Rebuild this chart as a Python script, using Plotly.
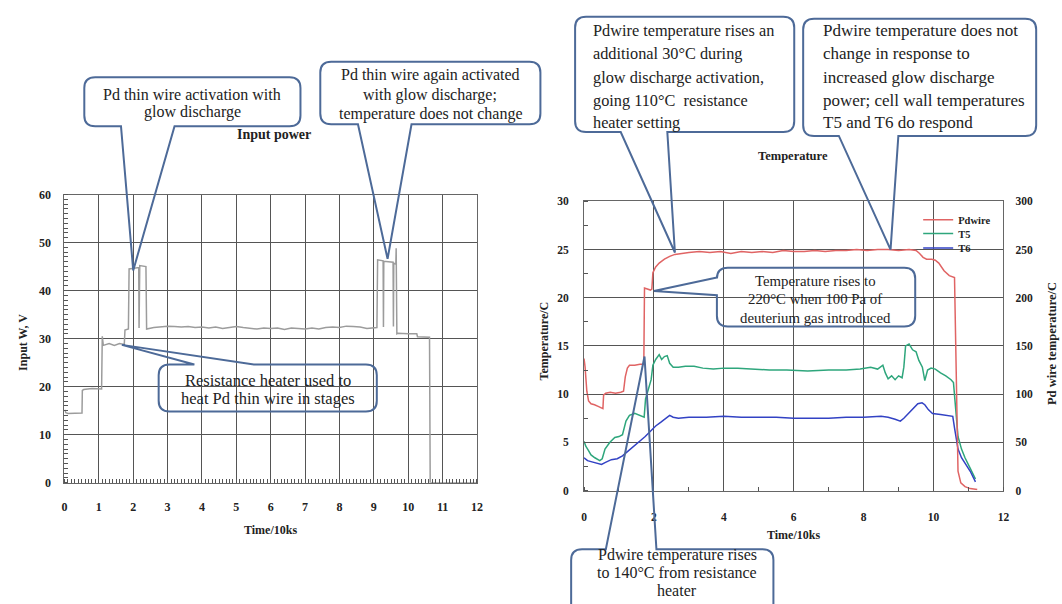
import plotly.graph_objects as go

W, H = 1062, 604

# ---- Input power record: time (10 ks) and input W / V ----
power_time = [
    0.00, 0.04, 0.10, 0.30, 0.51, 0.52, 0.56, 0.80, 1.08, 1.10,
    1.13, 1.30, 1.45, 1.60, 1.74, 1.76, 1.86, 1.88, 2.00, 2.16,
    2.17, 2.19, 2.37, 2.39, 2.60, 2.80, 3.00, 3.20, 3.40, 3.60,
    3.80, 4.00, 4.20, 4.40, 4.60, 4.80, 5.00, 5.20, 5.40, 5.60,
    5.80, 6.00, 6.20, 6.40, 6.60, 6.80, 7.00, 7.20, 7.40, 7.60,
    7.80, 8.00, 8.20, 8.40, 8.60, 8.80, 9.00, 9.09, 9.11, 9.27,
    9.28, 9.29, 9.56, 9.57, 9.58, 9.64, 9.65, 9.67, 9.70, 10.00,
    10.25, 10.27, 10.62, 10.64, 12.00,
]
power_value = [
    15.2, 14.6, 14.4, 14.4, 14.5, 19.2, 19.4, 19.6, 19.5, 30.5,
    28.6, 29.0, 28.6, 29.0, 28.8, 31.8, 32.0, 44.5, 44.6, 44.8,
    32.2, 45.2, 45.0, 32.0, 32.3, 32.5, 32.6, 32.5, 32.4, 32.5,
    32.3, 32.4, 32.2, 32.4, 32.1, 32.3, 32.5, 32.3, 32.1, 32.0,
    32.2, 32.1, 32.2, 31.9, 32.2, 32.1, 32.0, 32.2, 32.0, 32.3,
    32.4, 32.3, 32.6, 32.5, 32.4, 32.1, 32.2, 32.3, 46.4, 46.2,
    32.4, 46.1, 45.9, 32.5, 45.7, 45.5, 48.8, 31.0, 31.1, 31.0,
    31.0, 30.4, 30.3, 0.0, 0.0,
]

# ---- Pd wire temperature (right axis, degC) ----
pd_time = [
    0.00, 0.03, 0.08, 0.13, 0.20, 0.30, 0.42, 0.54, 0.56, 0.62,
    0.75, 0.90, 1.05, 1.13, 1.18, 1.24, 1.30, 1.45, 1.60, 1.71,
    1.73, 1.80, 1.90, 1.94, 1.97, 2.05, 2.15, 2.30, 2.45, 2.60,
    2.75, 3.00, 3.30, 3.60, 3.90, 4.20, 4.50, 4.80, 5.10, 5.40,
    5.70, 6.00, 6.30, 6.60, 6.90, 7.20, 7.50, 7.80, 8.10, 8.40,
    8.70, 9.00, 9.30, 9.50, 9.60, 9.70, 9.80, 9.95, 10.05, 10.15,
    10.30, 10.45, 10.60, 10.63, 10.66, 10.70, 10.78, 10.90, 11.05, 11.25,
]
pd_temp = [
    137, 128, 103, 93, 90, 89, 87, 85, 99, 101,
    102, 101, 102, 103, 118, 127, 130, 130, 131, 131,
    210, 209, 208, 209, 226, 232, 236, 240, 243, 245,
    246, 247, 248, 247, 248, 246, 248, 247, 248, 247,
    249, 248, 248, 249, 248, 249, 249, 250, 249, 250,
    250, 249, 250, 249, 246, 242, 240, 240, 239, 236,
    228, 223, 221, 160, 60, 20, 8, 4, 2, 1,
]

# ---- Cell wall temperature T5 (left axis) ----
t5_time = [
    0.00, 0.05, 0.12, 0.20, 0.31, 0.45, 0.52, 0.60, 0.74, 0.88,
    1.00, 1.10, 1.20, 1.30, 1.45, 1.60, 1.72, 1.76, 1.85, 1.92,
    1.97, 2.05, 2.15, 2.22, 2.30, 2.38, 2.45, 2.55, 2.70, 2.90,
    3.15, 3.40, 3.70, 4.00, 4.40, 4.80, 5.30, 5.80, 6.40, 7.00,
    7.50, 7.90, 8.20, 8.40, 8.55, 8.62, 8.70, 8.80, 8.90, 9.00,
    9.10, 9.15, 9.20, 9.30, 9.40, 9.50, 9.58, 9.68, 9.75, 9.83,
    9.93, 10.05, 10.20, 10.35, 10.50, 10.57, 10.62, 10.70, 10.80, 10.90,
    11.05, 11.20,
]
t5_temp = [
    5.1, 4.6, 4.2, 3.7, 3.4, 3.1, 3.3, 4.3, 5.0, 5.5,
    5.6, 5.8, 7.2, 7.8, 8.0, 7.8, 7.6, 9.5, 10.5, 11.5,
    13.0, 13.6, 14.1, 13.6, 13.9, 14.0, 13.2, 12.8, 12.8, 12.9,
    12.9, 12.7, 12.6, 12.7, 12.7, 12.6, 12.5, 12.5, 12.4, 12.5,
    12.5, 12.6, 12.8, 12.6, 13.0, 12.2, 11.6, 11.9, 11.5, 11.9,
    11.7, 12.8, 15.0, 15.2, 14.6, 14.4, 13.5, 12.8, 11.4, 12.5,
    12.7, 12.6, 12.2, 11.9, 11.5, 11.2, 9.0, 5.6, 4.3, 3.4,
    2.3, 1.2,
]

# ---- Cell wall temperature T6 (left axis) ----
t6_time = [
    0.00, 0.10, 0.20, 0.35, 0.50, 0.60, 0.78, 0.95, 1.10, 1.20,
    1.35, 1.50, 1.65, 1.75, 1.85, 1.95, 2.05, 2.20, 2.35, 2.45,
    2.55, 2.70, 3.00, 3.50, 4.00, 4.50, 5.00, 5.50, 6.00, 6.50,
    7.00, 7.50, 8.00, 8.50, 8.70, 8.90, 9.05, 9.15, 9.30, 9.45,
    9.55, 9.67, 9.75, 9.85, 9.97, 10.20, 10.40, 10.55, 10.60, 10.70,
    10.80, 10.95, 11.05, 11.20,
]
t6_temp = [
    3.4, 3.1, 3.0, 2.85, 2.7, 2.9, 3.2, 3.3, 3.6, 3.9,
    4.4, 4.9, 5.3, 5.6, 6.0, 6.4, 6.7, 7.1, 7.5, 7.8,
    7.6, 7.5, 7.6, 7.6, 7.7, 7.6, 7.6, 7.6, 7.5, 7.5,
    7.5, 7.6, 7.6, 7.7, 7.6, 7.4, 7.2, 7.5, 8.1, 8.6,
    9.0, 9.1, 8.9, 8.4, 8.0, 7.9, 7.8, 7.7, 6.5, 4.3,
    3.4, 2.6, 2.0, 0.9,
]

left_x_ticks = list(range(0, 13))
left_y_ticks = [0, 10, 20, 30, 40, 50, 60]
right_x_ticks = [0, 2, 4, 6, 8, 10, 12]
right_y_ticks = [0, 5, 10, 15, 20, 25, 30]
right_y2_ticks = [0, 50, 100, 150, 200, 250, 300]

# ---- plot-area placement (pixels) ----
LEFT = dict(x0=62, x1=478, y0=192, y1=487, xmax=12, ymax=60)
RIGHT = dict(x0=586, x1=1009, y0=199, y1=495, xmax=12, ymax=30)


def dom(area):
    return ([area["x0"] / W, area["x1"] / W],
            [1 - area["y1"] / H, 1 - area["y0"] / H])


def to_px(area, t, v):
    px = area["x0"] + t / area["xmax"] * (area["x1"] - area["x0"])
    py = area["y1"] - v / area["ymax"] * (area["y1"] - area["y0"])
    return px, py


SERIF = "Liberation Serif"
GRID = "#555555"
FRAME = "#666666"
INK = "#222222"
CALLOUT = "#4d6a98"

fig = go.Figure()

fig.add_trace(go.Scatter(
    x=power_time, y=power_value, mode="lines", xaxis="x", yaxis="y",
    line=dict(color="#9c9c9c", width=1.5), showlegend=False,
))
fig.add_trace(go.Scatter(
    x=pd_time, y=pd_temp, mode="lines", xaxis="x2", yaxis="y4", name="Pdwire",
    line=dict(color="#e06464", width=1.5), legend="legend",
))
fig.add_trace(go.Scatter(
    x=t5_time, y=t5_temp, mode="lines", xaxis="x2", yaxis="y3", name="T5",
    line=dict(color="#2ea67c", width=1.5), legend="legend2",
))
fig.add_trace(go.Scatter(
    x=t6_time, y=t6_temp, mode="lines", xaxis="x2", yaxis="y3", name="T6",
    line=dict(color="#3242c4", width=1.5), legend="legend3",
))

ldx, ldy = dom(LEFT)
rdx, rdy = dom(RIGHT)
tick_l = dict(family=SERIF, size=12, color=INK, weight="bold")
tick_r = dict(family=SERIF, size=11.5, color=INK, weight="bold")

common = dict(showline=True, linecolor=FRAME, linewidth=1, mirror=True,
              zeroline=False, gridcolor=GRID, gridwidth=1, ticks="")


def legend_at(py):
    return dict(x=923 / W, y=1 - py / H, xanchor="left", yanchor="top",
                bgcolor="rgba(255,255,255,0)", borderwidth=0,
                font=dict(family=SERIF, size=10.5, color=INK, weight="bold"))


fig.update_layout(
    width=W, height=H, margin=dict(l=0, r=0, t=0, b=0),
    paper_bgcolor="white", plot_bgcolor="white",
    font=dict(family=SERIF, color=INK),
    xaxis=dict(domain=ldx, anchor="y", range=[0, 12], tickvals=left_x_ticks,
               tickfont=tick_l, ticklabelstandoff=13, showgrid=True,
               minor=dict(dtick=0.1, ticks="inside", ticklen=4, tickcolor=GRID, showgrid=False),
               **common),
    yaxis=dict(domain=ldy, anchor="x", range=[0, 60], tickvals=left_y_ticks,
               tickfont=tick_l, ticklabelstandoff=10, showgrid=True,
               minor=dict(dtick=1, ticks="inside", ticklen=4, tickcolor=GRID, showgrid=False),
               **common),
    xaxis2=dict(domain=rdx, anchor="y3", range=[0, 12], tickvals=right_x_ticks,
                tickfont=tick_r, ticklabelstandoff=16, showgrid=True,
                minor=dict(dtick=1, ticks="inside", ticklen=4, tickcolor=GRID, showgrid=False),
                **common),
    yaxis3=dict(domain=rdy, anchor="x2", range=[0, 30], tickvals=right_y_ticks,
                tickfont=tick_r, ticklabelstandoff=12, showgrid=True,
                minor=dict(dtick=2.5, ticks="inside", ticklen=4, tickcolor=GRID, showgrid=False),
                **common),
    yaxis4=dict(overlaying="y3", anchor="x2", side="right", range=[0, 300],
                tickvals=right_y2_ticks, tickfont=tick_r, ticklabelstandoff=11,
                showgrid=False, showline=False, zeroline=False, ticks=""),
    legend=legend_at(203),
    legend2=legend_at(217),
    legend3=legend_at(232),
)

annotations = []


def text_at(txt, px, py, size, bold=False, xanchor="center", angle=0):
    annotations.append(dict(
        text=txt, x=px / W, y=1 - py / H, xref="paper", yref="paper",
        xanchor=xanchor, yanchor="middle", showarrow=False, textangle=angle,
        font=dict(family=SERIF, size=size, color=INK, weight="bold" if bold else "normal"),
    ))


# chart titles and axis titles
text_at("Input power", 273, 131, 14, bold=True)
text_at("Temperature", 797, 153, 12.5, bold=True)
text_at("Time/10ks", 270, 535, 12, bold=True)
text_at("Time/10ks", 797, 541, 12, bold=True)
text_at("Input W, V", 20, 343, 12, bold=True, angle=-90)
text_at("Temperature/C", 546, 342, 12, bold=True, angle=-90)
text_at("Pd wire temperature/C", 1058, 345, 12.5, bold=True, angle=-90)


def callout_path(x0, y0, x1, y1, side, a, b, tip, r=11):
    def P(x, y):
        return f"{x / W:.5f},{1 - y / H:.5f}"
    tx, ty = tip
    s = f"M{P(x0 + r, y0)}"
    if side == "top":
        s += f" L{P(a, y0)} L{P(tx, ty)} L{P(b, y0)}"
    s += f" L{P(x1 - r, y0)} Q{P(x1, y0)} {P(x1, y0 + r)}"
    s += f" L{P(x1, y1 - r)} Q{P(x1, y1)} {P(x1 - r, y1)}"
    if side == "bottom":
        s += f" L{P(b, y1)} L{P(tx, ty)} L{P(a, y1)}"
    s += f" L{P(x0 + r, y1)} Q{P(x0, y1)} {P(x0, y1 - r)}"
    if side == "left":
        s += f" L{P(x0, b)} L{P(tx, ty)} L{P(x0, a)}"
    s += f" L{P(x0, y0 + r)} Q{P(x0, y0)} {P(x0 + r, y0)} Z"
    return s


callouts = [
    dict(box=(82, 72, 300, 122), side="bottom", base=(119, 173),
         tip=to_px(LEFT, 2.0, 44.2), align="center", tx=191, ty=[90, 108], size=16,
         lines=["Pd thin wire activation with", "glow discharge"]),
    dict(box=(320, 56, 542, 120), side="bottom", base=(358, 412),
         tip=to_px(LEFT, 9.4, 46.6), align="center", tx=431, ty=[70, 90, 110], size=16,
         lines=["Pd thin wire again activated", "with glow discharge;",
                "temperature does not change"]),
    dict(box=(157, 366, 377, 414), side="top", base=(193, 253),
         tip=to_px(LEFT, 1.67, 28.7), align="center", tx=267, ty=[382, 401], size=16.5,
         lines=["Resistance heater used to", "heat Pd thin wire in stages"]),
    dict(box=(577, 10, 798, 128), side="bottom", base=(623, 670),
         tip=to_px(RIGHT, 2.6, 24.7), align="left", tx=593, ty=[24, 48, 72, 96, 118], size=16.3,
         lines=["Pdwire temperature rises an", "additional 30\u00b0C during",
                "glow discharge activation,", "going 110\u00b0C  resistance",
                "heater setting"]),
    dict(box=(807, 12, 1042, 132), side="bottom", base=(843, 903),
         tip=to_px(RIGHT, 8.77, 25.0), align="left", tx=825, ty=[24, 48, 72, 96, 118], size=17,
         lines=["Pdwire temperature does not", "change in response to",
                "increased glow discharge", "power; cell wall temperatures",
                "T5 and T6 do respond"]),
    dict(box=(720, 267, 920, 327), side="left", base=(277, 295),
         tip=to_px(RIGHT, 2.0, 20.7), align="center", tx=819, ty=[280, 299, 318], size=14.8,
         lines=["Temperature rises to", "220\u00b0C when 100 Pa of",
                "deuterium gas introduced"]),
    dict(box=(573, 555, 777, 640), side="top", base=(608, 659),
         tip=to_px(RIGHT, 1.73, 13.9), align="center", tx=680, ty=[561, 579, 597], size=16,
         lines=["Pdwire temperature rises", "to 140\u00b0C from resistance", "heater"]),
]

shapes = []
for c in callouts:
    x0, y0, x1, y1 = c["box"]
    shapes.append(dict(
        type="path", xref="paper", yref="paper",
        path=callout_path(x0, y0, x1, y1, c["side"], c["base"][0], c["base"][1], c["tip"]),
        line=dict(color=CALLOUT, width=2), fillcolor="rgba(0,0,0,0)", layer="above",
    ))
    for line, yy in zip(c["lines"], c["ty"]):
        text_at(line, c["tx"], yy, c["size"],
                xanchor="left" if c["align"] == "left" else "center")

fig.update_layout(annotations=annotations, shapes=shapes)

fig.write_html("out.html")
